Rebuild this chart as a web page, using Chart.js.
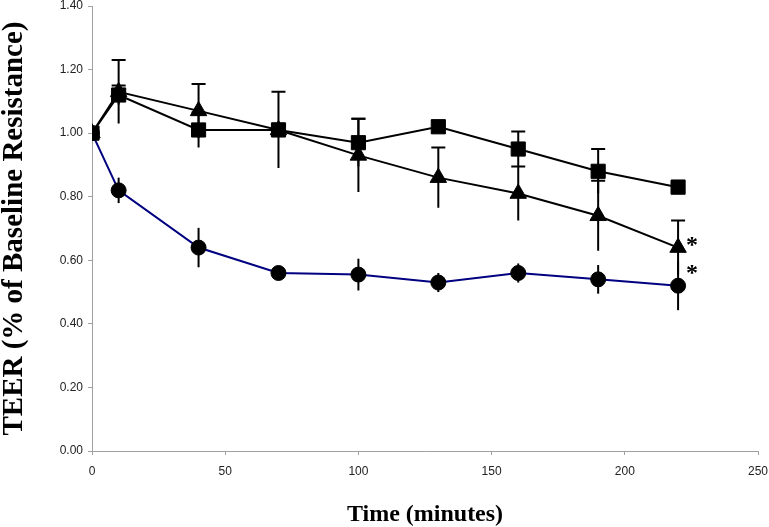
<!DOCTYPE html>
<html>
<head>
<meta charset="utf-8">
<script src="https://cdn.jsdelivr.net/npm/chart.js@4.4.1/dist/chart.umd.min.js"></script>
<style>
  html, body { margin: 0; padding: 0; background: #fff; }
  #wrap { width: 769px; height: 527px; }
</style>
</head>
<body>
<div id="wrap"><canvas id="teer"></canvas></div>
<script>
// time points (minutes)
const times = [0, 10, 40, 70, 100, 130, 160, 190, 220];

// TEER, fraction of baseline
const squares   = [1.00, 1.12, 1.01, 1.01, 0.97, 1.02, 0.95, 0.88, 0.83];
const triangles = [1.00, 1.13, 1.07, 1.01, 0.93, 0.86, 0.81, 0.74, 0.64];
const circles   = [1.00, 0.82, 0.64, 0.56, 0.555, 0.53, 0.56, 0.54, 0.52];

// error bar half-lengths
const squaresErr   = [0, 0.03, 0.055, 0.02, 0.075, 0.02, 0.055, 0.07, 0.02];
const trianglesErr = [0, 0.10, 0.085, 0.12, 0.115, 0.095, 0.085, 0.11, 0.085];
const circlesErr   = [0, 0.04, 0.062, 0.015, 0.05, 0.03, 0.03, 0.045, 0.077];

// significance marks
const triangleNotes = ['', '', '', '', '', '', '', '', '*'];
const circleNotes   = ['', '', '', '', '', '', '', '', '*'];

const xTicks = [0, 50, 100, 150, 200, 250];
const yTicks = [0, 0.2, 0.4, 0.6, 0.8, 1.0, 1.2, 1.4];

function pts(vals) {
    return times.map((t, i) => ({ x: t, y: vals[i] }));
}

// draws vertical error bars under the markers, and the asterisks on top
const errorBars = {
    id: 'errorBars',
    beforeDatasetsDraw(chart) {
        const ctx = chart.ctx;
        const y = chart.scales.y;
        ctx.save();
        ctx.strokeStyle = '#000';
        ctx.lineWidth = 2;
        chart.data.datasets.forEach((ds, di) => {
            const meta = chart.getDatasetMeta(di);
            meta.data.forEach((p, i) => {
                const e = ds.errors[i];
                if (!e) return;
                const v = ds.data[i].y;
                const top = y.getPixelForValue(v + e);
                const bot = y.getPixelForValue(v - e);
                ctx.beginPath();
                ctx.moveTo(p.x, top);
                ctx.lineTo(p.x, bot);
                if (ds.capTop) {
                    ctx.moveTo(p.x - 7, top);
                    ctx.lineTo(p.x + 7, top);
                }
                ctx.stroke();
            });
        });
        ctx.restore();
    },
    afterDatasetsDraw(chart) {
        const ctx = chart.ctx;
        ctx.save();
        ctx.fillStyle = '#000';
        ctx.font = 'bold 24px "Liberation Serif", "Times New Roman", serif';
        ctx.textAlign = 'center';
        ctx.textBaseline = 'middle';
        chart.data.datasets.forEach((ds, di) => {
            if (!ds.notes) return;
            const meta = chart.getDatasetMeta(di);
            meta.data.forEach((p, i) => {
                if (ds.notes[i]) ctx.fillText(ds.notes[i], p.x + ds.noteDx, p.y + ds.noteDy);
            });
        });
        ctx.restore();
    }
};

new Chart(document.getElementById('teer'), {
    type: 'line',
    data: {
        datasets: [
            {
                label: 'Triangles', data: pts(triangles), errors: trianglesErr, capTop: true,
                notes: triangleNotes, noteDx: 14, noteDy: -2,
                borderColor: '#000', borderWidth: 2, pointStyle: 'triangle', pointRadius: 9.5,
                pointBackgroundColor: '#000', pointBorderColor: '#000', pointBorderWidth: 1
            },
            {
                label: 'Squares', data: pts(squares), errors: squaresErr, capTop: true,
                borderColor: '#000', borderWidth: 2, pointStyle: 'rect', pointRadius: 10,
                pointBackgroundColor: '#000', pointBorderColor: '#000', pointBorderWidth: 1
            },
            {
                label: 'Circles', data: pts(circles), errors: circlesErr, capTop: false,
                notes: circleNotes, noteDx: 14, noteDy: -12,
                borderColor: '#000080', borderWidth: 2, pointStyle: 'circle', pointRadius: 7.5,
                pointBackgroundColor: '#000', pointBorderColor: '#000', pointBorderWidth: 1
            }
        ]
    },
    options: {
        responsive: true,
        maintainAspectRatio: false,
        animation: false,
        layout: { padding: 0, autoPadding: false },
        plugins: { legend: { display: false }, tooltip: { enabled: false } },
        scales: {
            x: {
                type: 'linear', min: 0, max: 250,
                afterFit: s => { s.height = 76; s.paddingRight = 11; s.paddingLeft = 0; },
                afterBuildTicks: s => { s.ticks = xTicks.map(v => ({ value: v })); },
                grid: { drawOnChartArea: false, drawTicks: true, tickLength: 4, color: '#a0a0a0' },
                border: { color: '#a0a0a0', width: 1 },
                ticks: { color: '#222', padding: 9, font: { family: '"Liberation Sans", Arial, sans-serif', size: 12 } },
                title: {
                    display: true, text: 'Time (minutes)', color: '#000',
                    padding: { top: 0, bottom: 0 },
                    font: { family: '"Liberation Serif", "Times New Roman", serif', size: 24, weight: 'bold', lineHeight: 1 }
                }
            },
            y: {
                type: 'linear', min: 0, max: 1.4,
                afterFit: s => { s.width = 92; s.paddingTop = 6; s.paddingBottom = 0; },
                afterBuildTicks: s => { s.ticks = yTicks.map(v => ({ value: v })); },
                grid: { drawOnChartArea: false, drawTicks: true, tickLength: 4, color: '#a0a0a0' },
                border: { color: '#a0a0a0', width: 1 },
                ticks: {
                    color: '#222', padding: 5,
                    font: { family: '"Liberation Sans", Arial, sans-serif', size: 12 },
                    callback: v => v.toFixed(2)
                },
                title: {
                    display: true, text: 'TEER (% of Baseline Resistance)', color: '#000',
                    padding: { top: 0, bottom: 0 },
                    font: { family: '"Liberation Serif", "Times New Roman", serif', size: 29, weight: 'bold', lineHeight: 1 }
                }
            }
        }
    },
    plugins: [errorBars]
});
</script>
</body>
</html>
